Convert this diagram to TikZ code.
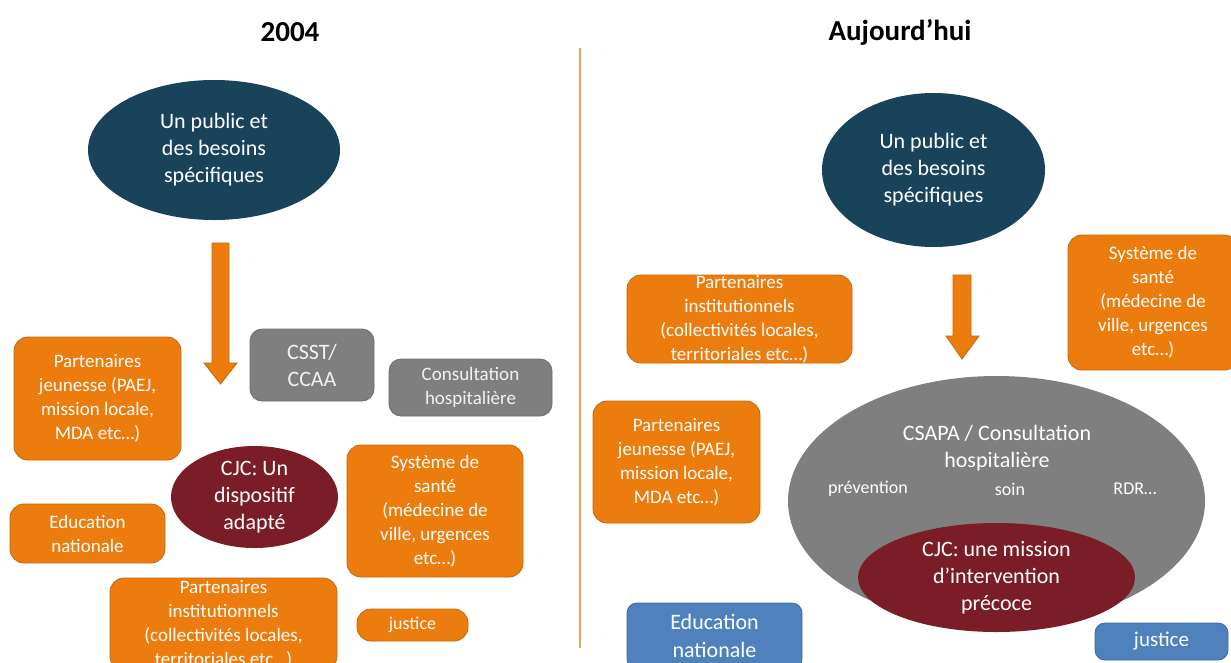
\documentclass[tikz,border=0pt]{standalone}
\usepackage{fontspec}
\setmainfont{Carlito}
\usetikzlibrary{shapes.geometric}

\definecolor{navy}{HTML}{18435B}
\definecolor{boxorange}{HTML}{EC7C0D}
\definecolor{orangeedge}{HTML}{C4660B}
\definecolor{greybox}{HTML}{7F7F7F}
\definecolor{greyedge}{HTML}{6E6E6E}
\definecolor{wine}{HTML}{7A1D27}
\definecolor{bluebox}{HTML}{4F81BD}
\definecolor{blueedge}{HTML}{3B6A9E}
\definecolor{divider}{HTML}{F2A35A}

\newcommand\fsz[2]{\fontsize{#1}{#2}\selectfont}

\tikzset{
  base/.style={align=center, inner sep=0pt, text=white},
  obox/.style={base, draw=orangeedge, fill=boxorange, rounded corners=14pt, line width=0.8pt},
  gbox/.style={base, draw=greyedge, fill=greybox, rounded corners=12pt, line width=0.8pt, text=white!95!black},
  bbox/.style={base, draw=blueedge, fill=bluebox, rounded corners=10pt, line width=0.8pt},
  oval/.style={base, ellipse},
  blockarrow/.style={fill=boxorange, draw=orangeedge, line width=0.8pt},
  title/.style={font=\bfseries\fsz{29}{34}, text=black},
  small/.style={font=\fsz{19}{24}},
  large/.style={font=\fsz{22}{27}},
}

\begin{document}
\begin{tikzpicture}[x=1pt, y=-1pt]
\clip (0,0) rectangle (1231,662);
\fill[white] (0,0) rectangle (1231,662);

% titles and divider
\node[title] (t2004) at (290,32) {2004};
\node[title] (tnow) at (900,32) {Aujourd’hui};
\draw[divider, line width=1.6pt] (580,48) -- (580,648);

% ---- 2004 ----
\node[oval, fill=navy, minimum width=252pt, minimum height=140pt, large] (pubL) at (214,150)
  {Un public et\\des besoins\\spécifiques};
\draw[blockarrow] (212,243) -- (229,243) -- (229,363) -- (237,363) -- (220.5,384)
  -- (204,363) -- (212,363) -- cycle;

\node[obox, minimum width=167pt, minimum height=123pt, small] (pjL) at (97.5,398.5)
  {Partenaires\\jeunesse (PAEJ,\\mission locale,\\MDA etc…)};
\node[gbox, minimum width=124pt, minimum height=72pt, large] (csst) at (312,365)
  {CSST/\\CCAA};
\node[gbox, minimum width=163pt, minimum height=57pt, small] (consL) at (470.5,387.5)
  {Consultation\\hospitalière};
\node[oval, fill=wine, minimum width=167pt, minimum height=102pt, large] (cjcL) at (254.5,497)
  {CJC: Un\\dispositif\\adapté};
\node[obox, minimum width=155pt, minimum height=59pt, small] (eduL) at (87.5,533.5)
  {Education\\nationale};
\node[obox, minimum width=176pt, minimum height=132pt, small] (santeL) at (435,511)
  {Système de\\santé\\(médecine de\\ville, urgences\\etc…)};
\node[obox, minimum width=227pt, minimum height=92pt, small] (instL) at (223.5,624)
  {Partenaires\\institutionnels\\(collectivités locales,\\territoriales etc…)};
\node[obox, minimum width=111pt, minimum height=32pt, font=\fsz{18}{22}] (justL) at (412.5,625)
  {justice};

% ---- Aujourd'hui ----
\node[oval, fill=navy, minimum width=223pt, minimum height=154pt, large] (pubR) at (933.5,170)
  {Un public et\\des besoins\\spécifiques};
\draw[blockarrow] (953,275) -- (971,275) -- (971,336) -- (979,336) -- (962,359)
  -- (946,336) -- (953,336) -- cycle;

\node[obox, minimum width=225pt, minimum height=88pt, small] (instR) at (739.5,319)
  {Partenaires\\institutionnels\\(collectivités locales,\\territoriales etc…)};
\node[obox, minimum width=170pt, minimum height=135pt, small] (santeR) at (1153,302.5)
  {Système de\\santé\\(médecine de\\ville, urgences\\etc…)};
\node[obox, minimum width=167pt, minimum height=122pt, small] (pjR) at (676.5,462)
  {Partenaires\\jeunesse (PAEJ,\\mission locale,\\MDA etc…)};

\node[oval, fill=greybox, minimum width=417pt, minimum height=250pt] (csapa) at (996.5,501) {};
\node[base, large] (csapaT) at (997,448.5) {CSAPA / Consultation\\hospitalière};
\node[base, font=\fsz{18}{22}] (prev) at (868,489) {prévention};
\node[base, font=\fsz{18}{22}] (soin) at (1010,489) {soin};
\node[base, font=\fsz{18}{22}] (rdr) at (1135,489) {RDR…};
\node[oval, fill=wine, minimum width=277pt, minimum height=109pt, large] (cjcR) at (996.5,577.5)
  {CJC: une mission\\d’intervention\\précoce};

\node[bbox, minimum width=175pt, minimum height=66pt, font=\fsz{22}{28}] (eduR) at (714.5,636)
  {Education\\nationale};
\node[bbox, minimum width=133pt, minimum height=37pt, font=\fsz{21}{26}] (justR) at (1161.5,641.5)
  {justice};
\end{tikzpicture}
\end{document}
